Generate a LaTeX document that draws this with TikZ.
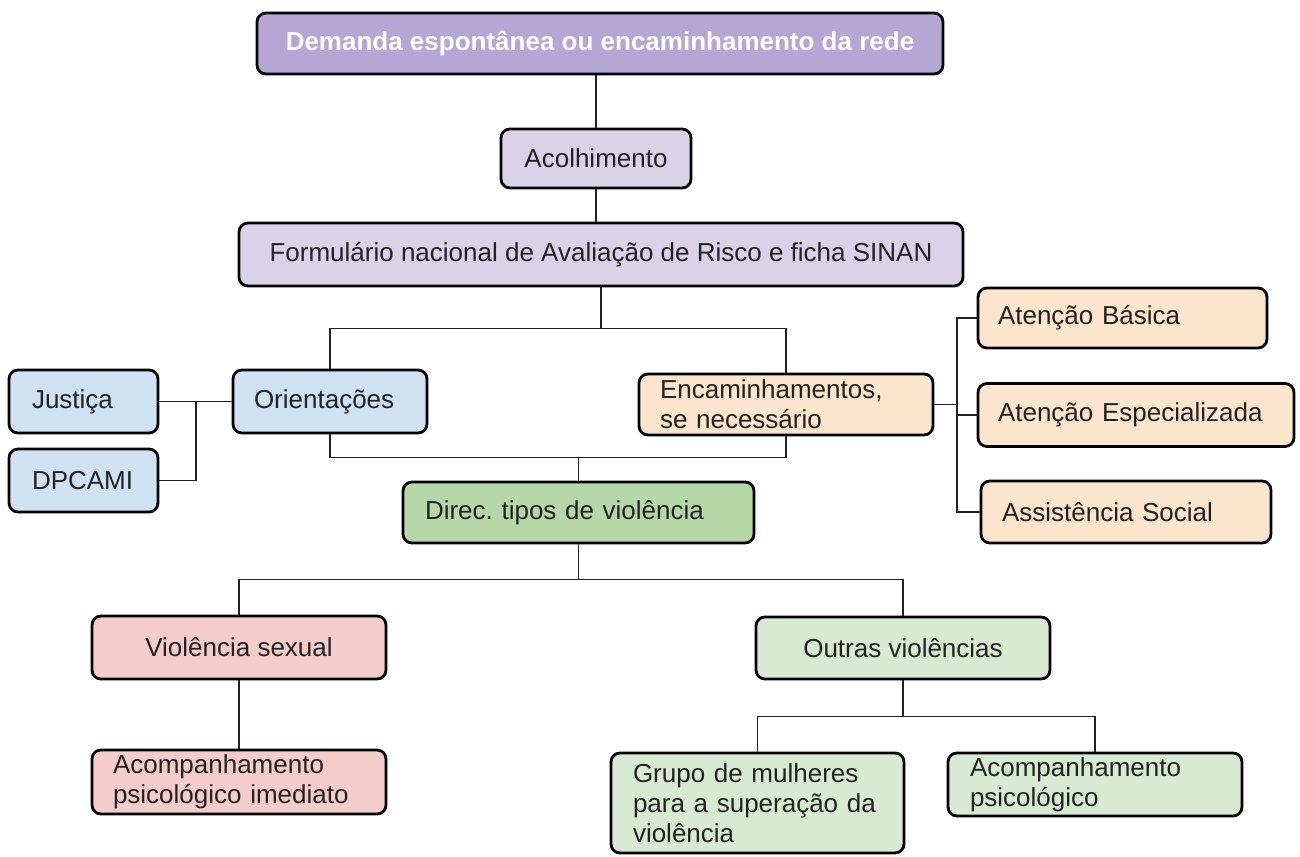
\documentclass[tikz,border=0pt]{standalone}
\usepackage{fontspec}
\setmainfont{Liberation Sans}
\usetikzlibrary{calc}
\definecolor{purD}{HTML}{B4A7D6}
\definecolor{purL}{HTML}{D9D2E9}
\definecolor{bluL}{HTML}{CFE2F3}
\definecolor{oraL}{HTML}{FCE5CD}
\definecolor{grnD}{HTML}{B6D7A8}
\definecolor{grnL}{HTML}{D9EAD3}
\definecolor{pnkL}{HTML}{F4CCCC}
\definecolor{txtc}{HTML}{222222}
\definecolor{linec}{HTML}{222222}
\begin{document}
\frenchspacing
\begin{tikzpicture}[x=1pt,y=-1pt,
  box/.style={draw=black, line width=2.8pt, rounded corners=9pt, inner ysep=0pt,
    text=txtc, font=\fontsize{26}{30}\selectfont, anchor=center, align=center},
  lbox/.style={box, align=left},
  conn/.style={draw=linec, line width=1.6pt}]
\useasboundingbox (0,0) rectangle (1300,856);

% top chain
\node[box, fill=purD, text=white, font=\bfseries\fontsize{26}{30}\selectfont,
  minimum width=686pt, minimum height=61pt] (dem) at (600,43.5) {Demanda espontânea ou encaminhamento da rede};
\node[box, fill=purL, minimum width=190pt, minimum height=59pt] (aco) at (596,158.5) {Acolhimento};
\node[box, fill=purL, minimum width=724pt, minimum height=63pt] (form) at (601,254.5) {Formulário nacional de Avaliação de Risco e ficha SINAN};

% left blue
\node[lbox, fill=bluL, inner xsep=23pt, text width=103pt, minimum height=63pt] (jus) at (83.5,401.5) {Justiça};
\node[lbox, fill=bluL, inner xsep=23pt, text width=103pt, minimum height=63pt] (dpc) at (83.5,480.5) {DPCAMI};
\node[lbox, fill=bluL, inner xsep=21pt, text width=152pt, minimum height=63pt] (ori) at (330,401.5) {Orientações};

% encaminhamentos
\node[lbox, fill=oraL, inner xsep=21pt, text width=252pt, minimum height=61pt] (enc) at (786,404.5) {Encaminhamentos,\\se necessário};
\node[lbox, fill=oraL, inner xsep=20pt, text width=249pt, minimum height=60pt] (bas) at (1122.5,318) {Atenção Básica};
\node[lbox, fill=oraL, inner xsep=20pt, text width=276pt, minimum height=63pt] (esp) at (1136,415) {Atenção Especializada};
\node[lbox, fill=oraL, inner xsep=21pt, text width=248pt, minimum height=62pt] (soc) at (1126,512) {Assistência Social};

% direc
\node[lbox, fill=grnD, inner xsep=22pt, text width=307pt, minimum height=61pt] (dir) at (578.5,512.5) {Direc. tipos de violência};

% second level
\node[box, fill=pnkL, minimum width=294pt, minimum height=63pt] (vs) at (239,647.5) {Violência sexual};
\node[box, fill=grnL, minimum width=294pt, minimum height=62pt] (out) at (903,648) {Outras violências};

% leaves
\node[lbox, fill=pnkL, inner xsep=21pt, text width=252pt, minimum height=64pt] (aci) at (239,782) {Acompanhamento\\psicológico imediato};
\node[lbox, fill=grnL, inner xsep=22pt, text width=249pt, minimum height=100pt] (gru) at (757.5,803) {Grupo de mulheres\\para a superação da\\violência};
\node[lbox, fill=grnL, inner xsep=22pt, text width=250pt, minimum height=63pt] (acp) at (1095,784.5) {Acompanhamento\\psicológico};

% junctions
\coordinate (j1) at ($(form.south)+(0,41)$);
\coordinate (j2) at ($(dir.north)+(0,-23)$);
\coordinate (j3) at (196,401.5);
\coordinate (j4) at (957,404.5);
\coordinate (j5) at ($(dir.south)+(0,35)$);
\coordinate (j6) at ($(out.south)+(0,36)$);

% connectors
\draw[conn] (aco.north) -- (dem.south -| aco.north);
\draw[conn] (aco.south) -- (form.north -| aco.south);
\draw[conn] (form.south) -- (j1);
\draw[conn] (ori.north) |- (j1) -| (enc.north);
\draw[conn] (ori.south) |- (j2) -| (enc.south);
\draw[conn] (j2) -- (dir.north);
\draw[conn] (jus.east) -- (ori.west);
\draw[conn] (dpc.east) -| (j3);
\draw[conn] (enc.east) -- (j4);
\draw[conn] (bas.west) -| (j4) |- (soc.west);
\draw[conn] (esp.west) -- (esp.west -| j4);
\draw[conn] (dir.south) -- (j5);
\draw[conn] (vs.north) |- (j5) -| (out.north);
\draw[conn] (vs.south) -- (aci.north);
\draw[conn] (out.south) -- (j6);
\draw[conn] (gru.north) |- (j6) -| (acp.north);
\end{tikzpicture}
\end{document}
